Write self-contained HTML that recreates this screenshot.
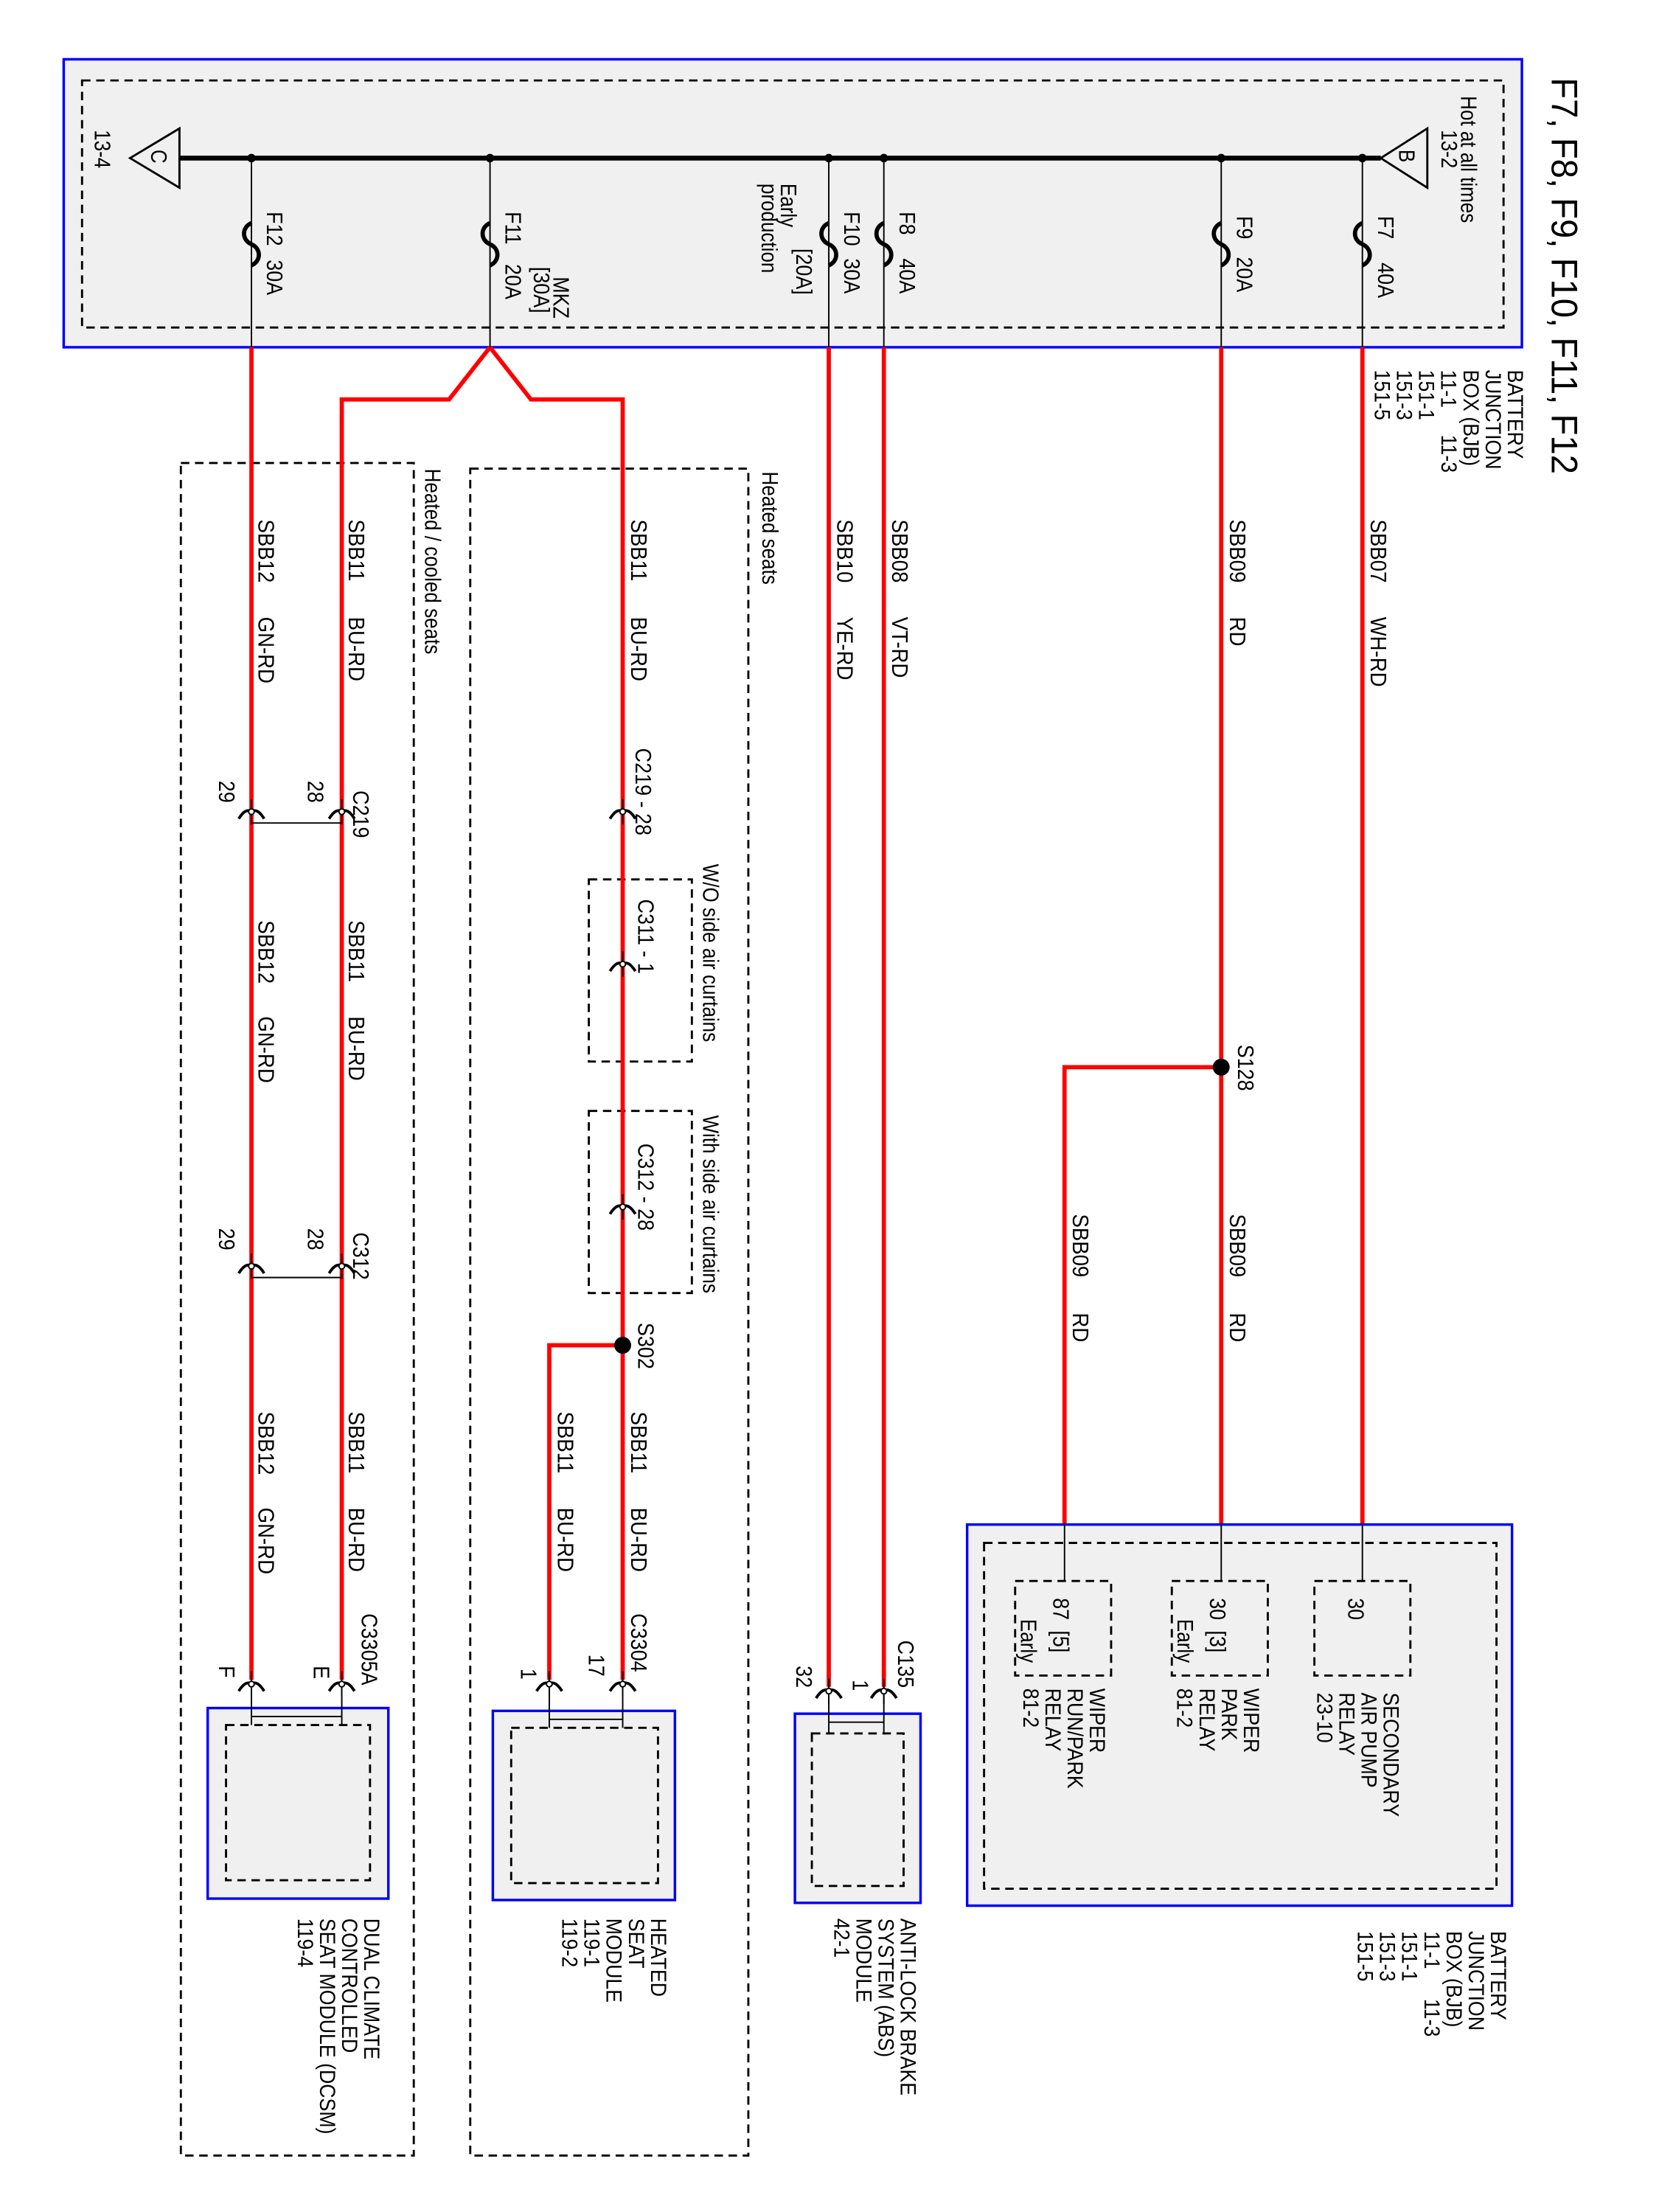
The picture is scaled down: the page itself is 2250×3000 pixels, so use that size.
<!DOCTYPE html>
<html><head><meta charset="utf-8"><style>
html,body{margin:0;padding:0;background:#fff}
svg{display:block}
text{font-family:"Liberation Sans",sans-serif;font-size:16px;fill:#000}
.t{font-size:26px}
.m{font-size:15.5px}
.r{stroke:#f00;stroke-width:3;fill:none}
.k{stroke:#000;stroke-width:1;fill:none}
.d{stroke:#000;stroke-width:1.5;fill:none;stroke-dasharray:6,4}
.b{fill:#f0f0f0;stroke:#00f;stroke-width:1.8}
</style></head><body>
<svg width="2250" height="3000" viewBox="0 0 1175 1567" xmlns="http://www.w3.org/2000/svg">
<defs>
<g id="cn"><path d="M-9,5 Q-4,-3 0,0 Q4,-3 9,5" stroke="#000" stroke-width="2" fill="none"/><line x1="0" y1="-9" x2="0" y2="9" stroke="#000" stroke-width="1"/><circle r="2" fill="#fff" stroke="#000" stroke-width="1"/></g>
<path id="fu" d="M0,0 c-7,3 -7,12 0,15 c7,3 7,12 0,15" stroke="#000" stroke-width="3" fill="none"/>
</defs>

<rect class="b" x="45" y="42" width="1033" height="204"/>
<rect class="d" x="58" y="57" width="1007" height="175"/>
<line x1="127" y1="112" x2="978" y2="112" stroke="#000" stroke-width="3.5"/>
<polygon points="92,112 127,91 127,133" fill="none" stroke="#000" stroke-width="1.5"/>
<polygon points="978,112 1011,91 1011,133" fill="none" stroke="#000" stroke-width="1.5"/>
<circle cx="178" cy="112" r="3"/><circle cx="347" cy="112" r="3"/><circle cx="587" cy="112" r="3"/><circle cx="626" cy="112" r="3"/><circle cx="865" cy="112" r="3"/><circle cx="965" cy="112" r="3"/>
<path class="k" d="M178,112V246M347,112V246M587,112V246M626,112V246M865,112V246M965,112V246"/>
<use href="#fu" x="178" y="158"/><use href="#fu" x="347" y="158"/><use href="#fu" x="587" y="158"/><use href="#fu" x="626" y="158"/><use href="#fu" x="865" y="158"/><use href="#fu" x="965" y="158"/>

<rect class="d" x="128" y="328" width="165" height="1199"/>
<rect class="d" x="333" y="332" width="197" height="1195"/>
<rect class="d" x="417" y="623" width="73" height="129"/>
<rect class="d" x="417" y="787" width="73" height="129"/>

<path class="r" d="M178,246V1190"/>
<path class="r" d="M347,246L318,283H242V1190"/>
<path class="r" d="M347,246L376,283H441V1190"/>
<path class="r" d="M441,953H389V1190"/>
<path class="r" d="M587,246V1195"/>
<path class="r" d="M626,246V1195"/>
<path class="r" d="M865,246V1080"/>
<path class="r" d="M865,756H754V1080"/>
<path class="r" d="M965,246V1080"/>
<circle cx="865" cy="756" r="6"/>
<circle cx="441" cy="953" r="6"/>

<line class="k" x1="178" y1="583" x2="242" y2="583"/>
<use href="#cn" x="178" y="575"/><use href="#cn" x="242" y="575"/>
<line class="k" x1="178" y1="905" x2="242" y2="905"/>
<use href="#cn" x="178" y="897"/><use href="#cn" x="242" y="897"/>
<use href="#cn" x="441" y="575"/>
<use href="#cn" x="441" y="683"/>
<use href="#cn" x="441" y="855"/>

<rect class="b" x="147" y="1210" width="128" height="135"/>
<rect class="d" x="160" y="1222" width="102" height="110"/>
<path class="k" d="M178,1190V1222M242,1190V1222M178,1216H242"/>
<use href="#cn" x="178" y="1193"/><use href="#cn" x="242" y="1193"/>

<rect class="b" x="349" y="1212" width="129" height="134"/>
<rect class="d" x="362" y="1224" width="104" height="110"/>
<path class="k" d="M389,1190V1224M441,1190V1224M389,1218H441"/>
<use href="#cn" x="389" y="1193"/><use href="#cn" x="441" y="1193"/>

<rect class="b" x="563" y="1214" width="89" height="134"/>
<rect class="d" x="575" y="1228" width="65" height="108"/>
<path class="k" d="M587,1195V1228M626,1195V1228M587,1220H626"/>
<use href="#cn" x="587" y="1198"/><use href="#cn" x="626" y="1198"/>

<rect class="b" x="685" y="1080" width="386" height="270"/>
<rect class="d" x="697" y="1093" width="363" height="245"/>
<rect class="d" x="719" y="1120" width="68" height="67"/>
<rect class="d" x="830" y="1120" width="68" height="67"/>
<rect class="d" x="931" y="1120" width="68" height="67"/>
<path class="k" d="M754,1080V1120M865,1080V1120M965,1080V1120"/>

<!-- texts -->
<text class="t" transform="translate(1099,55) rotate(90) scale(.95,1)">F7, F8, F9, F10, F11, F12</text>
<text class="m" transform="translate(1068,262) rotate(90) scale(.9,1)"><tspan x="0">BATTERY</tspan><tspan x="0" dy="15.7">JUNCTION</tspan><tspan x="0" dy="15.7">BOX (BJB)</tspan><tspan x="0" dy="15.7">11-1</tspan><tspan x="0" dy="15.7">151-1</tspan><tspan x="0" dy="15.7">151-3</tspan><tspan x="0" dy="15.7">151-5</tspan></text>
<text class="m" transform="translate(1021,308) rotate(90) scale(.9,1)">11-3</text>
<text transform="translate(1035,68) rotate(90) scale(.85,1)">Hot at all times</text>
<text transform="translate(1021,92) rotate(90) scale(.85,1)">13-2</text>
<text transform="translate(991,106) rotate(90) scale(.85,1)">B</text>
<text transform="translate(67,92) rotate(90) scale(.85,1)">13-4</text>
<text transform="translate(107,106) rotate(90) scale(.85,1)">C</text>

<text transform="translate(976,153) rotate(90) scale(.88,1)">F7</text><text transform="translate(976,186) rotate(90) scale(.88,1)">40A</text>
<text transform="translate(876,153) rotate(90) scale(.88,1)">F9</text><text transform="translate(876,182) rotate(90) scale(.88,1)">20A</text>
<text transform="translate(637,150) rotate(90) scale(.88,1)">F8</text><text transform="translate(637,183) rotate(90) scale(.88,1)">40A</text>
<text transform="translate(598,150) rotate(90) scale(.88,1)">F10</text><text transform="translate(598,183) rotate(90) scale(.88,1)">30A</text>
<text transform="translate(564,176) rotate(90) scale(.88,1)">[20A]</text>
<text transform="translate(553,130) rotate(90) scale(.85,1)"><tspan x="0">Early</tspan><tspan x="0" dy="13.5">production</tspan></text>
<text transform="translate(358,150) rotate(90) scale(.88,1)">F11</text><text transform="translate(358,187) rotate(90) scale(.88,1)">20A</text>
<text transform="translate(378,189) rotate(90) scale(.88,1)">[30A]</text>
<text transform="translate(392,196) rotate(90) scale(.88,1)">MKZ</text>
<text transform="translate(189,150) rotate(90) scale(.88,1)">F12</text><text transform="translate(189,184) rotate(90) scale(.88,1)">30A</text>

<text transform="translate(540,334) rotate(90) scale(.85,1)">Heated seats</text>
<text transform="translate(301,332) rotate(90) scale(.85,1)">Heated / cooled seats</text>
<text transform="translate(498,612) rotate(90) scale(.85,1)">W/O side air curtains</text>
<text transform="translate(498,790) rotate(90) scale(.85,1)">With side air curtains</text>

<g>
<text transform="translate(971,368) rotate(90) scale(.9,1)">SBB07</text><text transform="translate(971,437) rotate(90) scale(.9,1)">WH-RD</text>
<text transform="translate(871,368) rotate(90) scale(.9,1)">SBB09</text><text transform="translate(871,437) rotate(90) scale(.9,1)">RD</text>
<text transform="translate(632,368) rotate(90) scale(.9,1)">SBB08</text><text transform="translate(632,437) rotate(90) scale(.9,1)">VT-RD</text>
<text transform="translate(593,368) rotate(90) scale(.9,1)">SBB10</text><text transform="translate(593,437) rotate(90) scale(.9,1)">YE-RD</text>
<text transform="translate(447,368) rotate(90) scale(.9,1)">SBB11</text><text transform="translate(447,437) rotate(90) scale(.9,1)">BU-RD</text>
<text transform="translate(247,368) rotate(90) scale(.9,1)">SBB11</text><text transform="translate(247,437) rotate(90) scale(.9,1)">BU-RD</text>
<text transform="translate(183,368) rotate(90) scale(.9,1)">SBB12</text><text transform="translate(183,437) rotate(90) scale(.9,1)">GN-RD</text>
<text transform="translate(247,652) rotate(90) scale(.9,1)">SBB11</text><text transform="translate(247,720) rotate(90) scale(.9,1)">BU-RD</text>
<text transform="translate(183,652) rotate(90) scale(.9,1)">SBB12</text><text transform="translate(183,720) rotate(90) scale(.9,1)">GN-RD</text>
<text transform="translate(871,860) rotate(90) scale(.9,1)">SBB09</text><text transform="translate(871,930) rotate(90) scale(.9,1)">RD</text>
<text transform="translate(760,860) rotate(90) scale(.9,1)">SBB09</text><text transform="translate(760,930) rotate(90) scale(.9,1)">RD</text>
<text transform="translate(447,1000) rotate(90) scale(.9,1)">SBB11</text><text transform="translate(447,1068) rotate(90) scale(.9,1)">BU-RD</text>
<text transform="translate(395,1000) rotate(90) scale(.9,1)">SBB11</text><text transform="translate(395,1068) rotate(90) scale(.9,1)">BU-RD</text>
<text transform="translate(247,1000) rotate(90) scale(.9,1)">SBB11</text><text transform="translate(247,1068) rotate(90) scale(.9,1)">BU-RD</text>
<text transform="translate(183,1000) rotate(90) scale(.9,1)">SBB12</text><text transform="translate(183,1068) rotate(90) scale(.9,1)">GN-RD</text>
</g>
<text transform="translate(877,740) rotate(90) scale(.88,1)">S128</text>
<text transform="translate(452,937) rotate(90) scale(.88,1)">S302</text>

<text transform="translate(250,560) rotate(90) scale(.88,1)">C219</text>
<text transform="translate(218,553) rotate(90) scale(.88,1)">28</text>
<text transform="translate(155,553) rotate(90) scale(.88,1)">29</text>
<text transform="translate(250,873) rotate(90) scale(.88,1)">C312</text>
<text transform="translate(218,870) rotate(90) scale(.88,1)">28</text>
<text transform="translate(155,870) rotate(90) scale(.88,1)">29</text>
<text transform="translate(450,530) rotate(90) scale(.88,1)">C219 - 28</text>
<text transform="translate(452,637) rotate(90) scale(.88,1)">C311 - 1</text>
<text transform="translate(452,810) rotate(90) scale(.88,1)">C312 - 28</text>

<text transform="translate(256,1143) rotate(90) scale(.88,1)">C3305A</text>
<text transform="translate(222,1180) rotate(90) scale(.88,1)">E</text>
<text transform="translate(155,1180) rotate(90) scale(.88,1)">F</text>
<text class="m" transform="translate(258,1359) rotate(90) scale(.9,1)"><tspan x="0">DUAL CLIMATE</tspan><tspan x="0" dy="15.7">CONTROLLED</tspan><tspan x="0" dy="15.7">SEAT MODULE (DCSM)</tspan><tspan x="0" dy="15.7">119-4</tspan></text>

<text transform="translate(447,1143) rotate(90) scale(.88,1)">C3304</text>
<text transform="translate(417,1172) rotate(90) scale(.88,1)">17</text>
<text transform="translate(369,1182) rotate(90) scale(.88,1)">1</text>
<text class="m" transform="translate(461,1359) rotate(90) scale(.9,1)"><tspan x="0">HEATED</tspan><tspan x="0" dy="15.7">SEAT</tspan><tspan x="0" dy="15.7">MODULE</tspan><tspan x="0" dy="15.7">119-1</tspan><tspan x="0" dy="15.7">119-2</tspan></text>

<text transform="translate(636,1162) rotate(90) scale(.88,1)">C135</text>
<text transform="translate(604,1190) rotate(90) scale(.88,1)">1</text>
<text transform="translate(564,1180) rotate(90) scale(.88,1)">32</text>
<text class="m" transform="translate(638,1359) rotate(90) scale(.9,1)"><tspan x="0">ANTI-LOCK BRAKE</tspan><tspan x="0" dy="15.7">SYSTEM (ABS)</tspan><tspan x="0" dy="15.7">MODULE</tspan><tspan x="0" dy="15.7">42-1</tspan></text>

<text transform="translate(955,1132) rotate(90) scale(.88,1)">30</text>
<text transform="translate(857,1132) rotate(90) scale(.88,1)">30 <tspan dx="4">[3]</tspan></text>
<text transform="translate(834,1147) rotate(90) scale(.85,1)">Early</text>
<text transform="translate(746,1132) rotate(90) scale(.88,1)">87 <tspan dx="4">[5]</tspan></text>
<text transform="translate(723,1147) rotate(90) scale(.85,1)">Early</text>
<text class="m" transform="translate(980,1199) rotate(90) scale(.9,1)"><tspan x="0">SECONDARY</tspan><tspan x="0" dy="15.7">AIR PUMP</tspan><tspan x="0" dy="15.7">RELAY</tspan><tspan x="0" dy="15.7">23-10</tspan></text>
<text class="m" transform="translate(881,1196) rotate(90) scale(.9,1)"><tspan x="0">WIPER</tspan><tspan x="0" dy="15.7">PARK</tspan><tspan x="0" dy="15.7">RELAY</tspan><tspan x="0" dy="15.7">81-2</tspan></text>
<text class="m" transform="translate(772,1196) rotate(90) scale(.9,1)"><tspan x="0">WIPER</tspan><tspan x="0" dy="15.7">RUN/PARK</tspan><tspan x="0" dy="15.7">RELAY</tspan><tspan x="0" dy="15.7">81-2</tspan></text>
<text class="m" transform="translate(1056,1368) rotate(90) scale(.9,1)"><tspan x="0">BATTERY</tspan><tspan x="0" dy="15.7">JUNCTION</tspan><tspan x="0" dy="15.7">BOX (BJB)</tspan><tspan x="0" dy="15.7">11-1</tspan><tspan x="0" dy="15.7">151-1</tspan><tspan x="0" dy="15.7">151-3</tspan><tspan x="0" dy="15.7">151-5</tspan></text>
<text class="m" transform="translate(1009,1416) rotate(90) scale(.9,1)">11-3</text>
</svg>
</body></html>
